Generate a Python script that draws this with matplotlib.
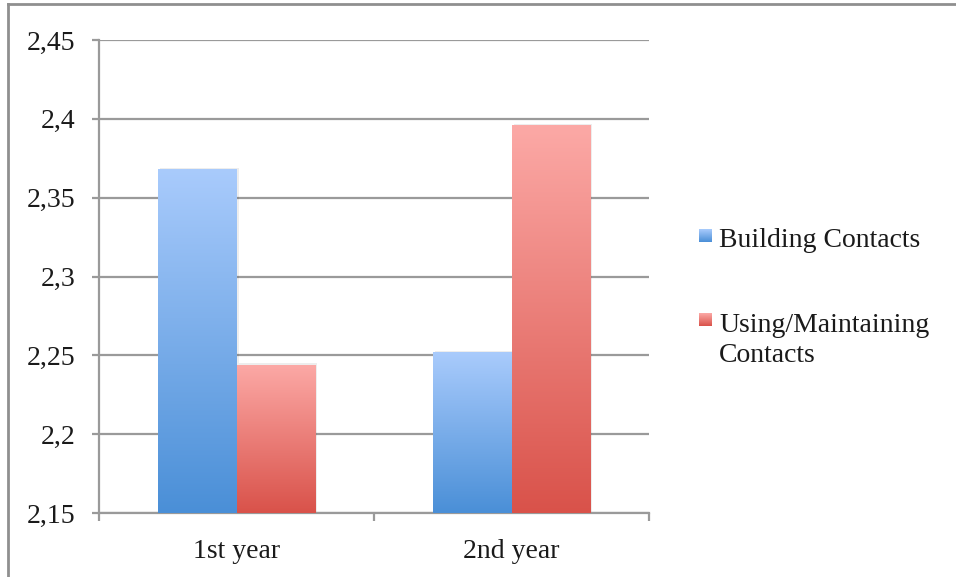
import numpy as np
import matplotlib
matplotlib.use("Agg")
import matplotlib.pyplot as plt
from matplotlib.colors import LinearSegmentedColormap
from matplotlib.patches import Rectangle
from matplotlib.lines import Line2D

# ---- data ----
categories = ["1st year", "2nd year"]
series_names = ["Building Contacts", "Using/Maintaining\nContacts"]
building = [2.368, 2.252]
using = [2.244, 2.396]
y_ticks = [2.15, 2.2, 2.25, 2.3, 2.35, 2.4, 2.45]
y_tick_labels = ["2,15", "2,2", "2,25", "2,3", "2,35", "2,4", "2,45"]

# gradient colours (bottom, top) for each series
blue_grad = ["#4a8fd7", "#a9cbfc"]
red_grad = ["#d9524a", "#fca9a6"]

W, H = 956, 577
plt.rcParams["font.family"] = ["Liberation Serif", "DejaVu Serif"]
fig = plt.figure(figsize=(W / 100, H / 100), dpi=100)
fig.patch.set_facecolor("white")

def px(x, y):
    return x / W, 1 - y / H

ax = fig.add_axes([99 / W, (H - 513) / H, 550 / W, 473 / H])
grid_c = "#9a9a9a"
text_c = "#1a1a1a"

ax.set_ylim(2.15, 2.45)
ax.set_xlim(-0.5, 1.5)
ax.set_yticks(y_ticks)
ax.set_yticklabels(y_tick_labels)
ax.yaxis.grid(True, color=grid_c, linewidth=1.6)
ax.set_axisbelow(True)
for s in ["top", "right"]:
    ax.spines[s].set_visible(False)
for s in ["left", "bottom"]:
    ax.spines[s].set_color(grid_c)
    ax.spines[s].set_linewidth(1.6)
ax.tick_params(axis="y", length=5, width=1.6, color=grid_c, pad=12,
               labelsize=20, labelcolor=text_c)
ax.set_xticks([-0.5, 0.5, 1.5])
ax.set_xticklabels([])
ax.set_xticks([0, 1], minor=True)
ax.set_xticklabels(categories, minor=True)
ax.tick_params(axis="x", which="major", length=6, width=1.6, color=grid_c)
ax.tick_params(axis="x", which="minor", length=0, pad=19, labelsize=20,
               labelcolor=text_c)

x = np.arange(len(categories))
bw = 0.285

def gradient_bars(xs, vals, colors):
    bars = ax.bar(xs, np.array(vals) - 2.15, bw, bottom=2.15,
                  color="none", edgecolor="none", zorder=3)
    cmap = LinearSegmentedColormap.from_list("g", colors)
    grad = np.linspace(0, 1, 256).reshape(-1, 1)
    for b in bars:
        x0, y0 = b.get_x(), b.get_y()
        x1, y1 = x0 + b.get_width(), y0 + b.get_height()
        # soft shadow
        sh = Rectangle((x0 + 0.008, y0), b.get_width(), b.get_height() + 0.001,
                       facecolor="#000000", alpha=0.07, edgecolor="none",
                       zorder=2.5)
        ax.add_patch(sh)
        im = ax.imshow(grad, extent=[x0, x1, y0, y1], origin="lower",
                       cmap=cmap, aspect="auto", zorder=3,
                       interpolation="bilinear")
        im.set_clip_path(b)
    return bars

gradient_bars(x - bw / 2, building, blue_grad)
gradient_bars(x + bw / 2, using, red_grad)
ax.set_xlim(-0.5, 1.5)
ax.set_ylim(2.15, 2.45)

# legend drawn by hand
def legend_square(x0, y0, colors):
    cmap = LinearSegmentedColormap.from_list("g", colors)
    lax = fig.add_axes([x0 / W, 1 - (y0 + 13) / H, 13 / W, 13 / H])
    lax.imshow(np.linspace(0, 1, 64).reshape(-1, 1), origin="lower",
               cmap=cmap, aspect="auto", extent=[0, 1, 0, 1])
    lax.set_axis_off()

legend_square(699, 229, blue_grad)
legend_square(699, 313, red_grad)
fig.text(*px(719, 247), series_names[0], fontsize=20, color=text_c,
         va="baseline", ha="left")
label_lines = series_names[1].split("\n")
fig.text(*px(719, 332), label_lines[0], fontsize=20, color=text_c,
         va="baseline", ha="left")
fig.text(*px(719, 362), label_lines[1], fontsize=20, color=text_c,
         va="baseline", ha="left")

# chart frame (top and left edges)
fig.add_artist(Line2D([8 / W, 1], [1 - 4 / H, 1 - 4 / H], color="#8f8f8f",
                      linewidth=2, transform=fig.transFigure))
fig.add_artist(Line2D([8 / W, 8 / W], [1 - 4 / H, 0], color="#8f8f8f",
                      linewidth=2, transform=fig.transFigure))

fig.savefig("out.png", dpi=100)
